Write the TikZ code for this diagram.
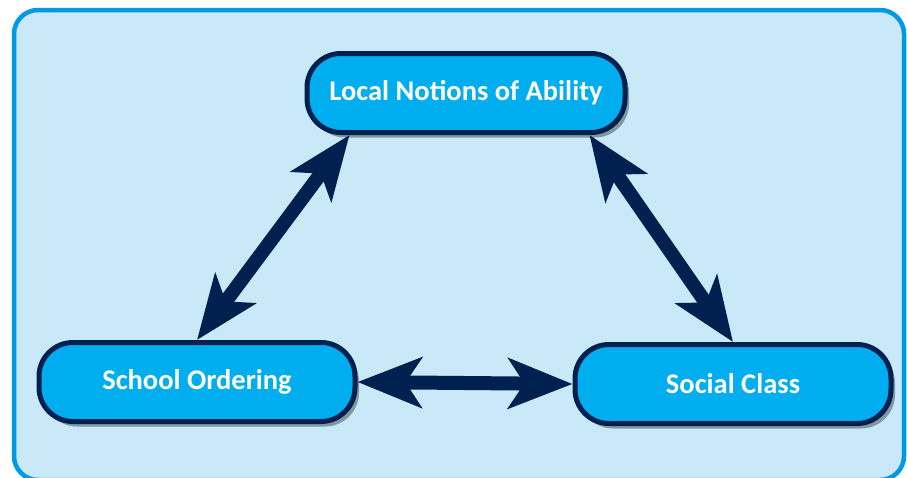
\documentclass[tikz,border=0pt]{standalone}
\usepackage{fontspec}
\setmainfont{Carlito}
\usetikzlibrary{arrows.meta,shadows,calc}
\definecolor{bgfill}{HTML}{C9E8F8}
\definecolor{bgline}{HTML}{0099E4}
\definecolor{boxfill}{HTML}{00AEEF}
\definecolor{navy}{HTML}{00204F}
\tikzset{
  concept/.style={draw=navy, line width=5pt, fill=boxfill, rounded corners=34pt,
    minimum height=79pt, text=white, font=\bfseries\fontsize{28.5}{32}\selectfont,
    drop shadow={shadow xshift=4pt, shadow yshift=-5pt, opacity=0.35, fill=black}},
  link/.style={navy, line width=14pt,
    {Stealth[length=64pt, width=50pt, inset=16pt]}-{Stealth[length=64pt, width=50pt, inset=16pt]}}
}
\begin{document}
\begin{tikzpicture}[x=1pt,y=-1pt]
\useasboundingbox (0,0) rectangle (907,477);
\draw[bgline, fill=bgfill, line width=4.5pt, rounded corners=24pt] (14,10) rectangle (904,480);
\node[concept, minimum width=318pt] (ability) at (466,93) {Local Notions of Ability};
\node[concept, minimum width=316pt] (school) at (197,382) {School Ordering};
\node[concept, minimum width=316pt] (class) at (733,384) {Social Class};
\coordinate (a1) at ($(ability.south west)+(45,0)$);
\coordinate (a2) at ($(ability.south east)+(-38,0)$);
\draw[link] (school.north) -- (a1);
\draw[link] (class.north) -- (a2);
\draw[link] (school.east) -- (class.west);
\end{tikzpicture}
\end{document}
